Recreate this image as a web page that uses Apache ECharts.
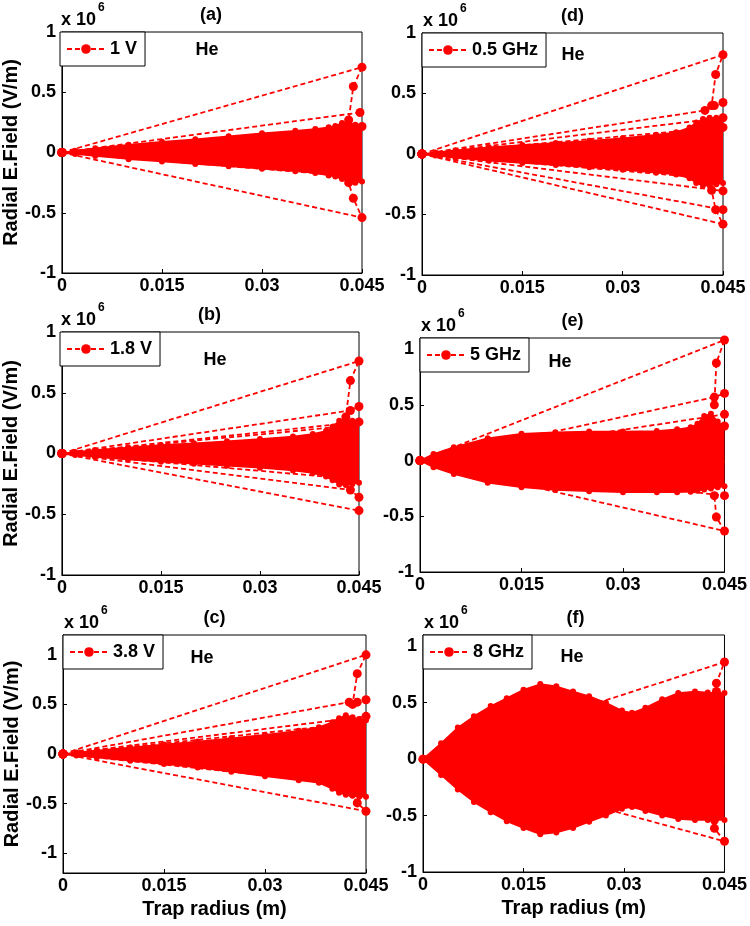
<!DOCTYPE html>
<html>
<head>
<meta charset="utf-8">
<script src="https://cdn.jsdelivr.net/npm/echarts@6/dist/echarts.min.js"></script>
<style>
  html, body { margin: 0; padding: 0; background: #fff; }
  #chart { width: 750px; height: 926px; }
</style>
</head>
<body>
<div id="chart"></div>
<script>
// tick labels
const xTicks = [0, 0.015, 0.03, 0.045]
const yTicks = [-1, -0.5, 0, 0.5, 1]

// envelope of the dense oscillation, x in m, E in 1e6 V/m
const envX = [0, 0.002, 0.005, 0.01, 0.015, 0.02, 0.025, 0.03, 0.035, 0.038, 0.04, 0.041, 0.042, 0.043, 0.044, 0.045]

const upA = [0, 0.015, 0.035, 0.065, 0.09, 0.11, 0.135, 0.16, 0.18, 0.195, 0.21, 0.22, 0.245, 0.25, 0.23, 0.22]
const loA = [0, -0.013, -0.03, -0.055, -0.075, -0.095, -0.115, -0.135, -0.155, -0.17, -0.19, -0.2, -0.22, -0.24, -0.25, -0.24]

const upB = [0, 0.012, 0.028, 0.05, 0.07, 0.085, 0.1, 0.12, 0.14, 0.16, 0.185, 0.22, 0.27, 0.28, 0.27, 0.26]
const loB = [0, -0.012, -0.028, -0.05, -0.068, -0.085, -0.1, -0.118, -0.14, -0.16, -0.19, -0.22, -0.255, -0.26, -0.25, -0.24]

const upC = [0, 0.015, 0.035, 0.065, 0.095, 0.125, 0.16, 0.195, 0.235, 0.27, 0.32, 0.36, 0.39, 0.37, 0.35, 0.34]
const loC = [0, -0.015, -0.035, -0.068, -0.1, -0.135, -0.18, -0.225, -0.265, -0.29, -0.35, -0.39, -0.41, -0.42, -0.43, -0.43]

const upD = [0, 0.012, 0.03, 0.055, 0.075, 0.09, 0.11, 0.13, 0.16, 0.18, 0.22, 0.26, 0.29, 0.3, 0.3, 0.3]
const loD = [0, -0.012, -0.03, -0.055, -0.075, -0.09, -0.11, -0.13, -0.155, -0.17, -0.2, -0.24, -0.26, -0.26, -0.25, -0.24]

const upE = [0, 0.06, 0.12, 0.2, 0.24, 0.255, 0.26, 0.26, 0.265, 0.28, 0.3, 0.33, 0.4, 0.42, 0.35, 0.3]
const loE = [0, -0.06, -0.12, -0.2, -0.24, -0.265, -0.275, -0.285, -0.285, -0.285, -0.28, -0.27, -0.26, -0.25, -0.24, -0.23]

// panel (f) has its own sampling (beat-shaped envelope)
const envXF = [0, 0.0027, 0.0052, 0.0076, 0.0101, 0.0125, 0.015, 0.0175, 0.0199, 0.0224, 0.0248, 0.0273, 0.0297, 0.0312, 0.0332, 0.0357, 0.0381, 0.0406, 0.0425, 0.045]
const upF = [0, 0.14, 0.28, 0.38, 0.47, 0.54, 0.615, 0.665, 0.645, 0.6, 0.558, 0.5, 0.43, 0.41, 0.456, 0.53, 0.587, 0.6, 0.59, 0.587]
const loF = [0, -0.14, -0.27, -0.38, -0.47, -0.55, -0.61, -0.665, -0.65, -0.61, -0.555, -0.5, -0.44, -0.425, -0.46, -0.5, -0.53, -0.54, -0.54, -0.54]

// outer dashed traces, each starts at the origin
const raysA = [
  [[0, 0], [0.045, 0.708], [0.0437, 0.548], [0.043, 0.27]],
  [[0, 0], [0.0447, 0.332]],
  [[0, 0], [0.045, 0.216]],
  [[0, 0], [0.042, 0.17]],
  [[0, 0], [0.045, -0.54], [0.0437, -0.38], [0.043, -0.25]],
  [[0, 0], [0.042, -0.15]],
  [[0, 0], [0.042, -0.19]],
]
const raysB = [
  [[0, 0], [0.045, 0.761], [0.0437, 0.6], [0.043, 0.3]],
  [[0, 0], [0.0437, 0.354], [0.045, 0.387]],
  [[0, 0], [0.045, 0.26]],
  [[0, 0], [0.042, 0.22]],
  [[0, 0], [0.045, -0.47]],
  [[0, 0], [0.0437, -0.3], [0.045, -0.36]],
  [[0, 0], [0.042, -0.2]],
]
const raysC = [
  [[0, 0], [0.045, 1.0], [0.0437, 0.81], [0.043, 0.5]],
  [[0, 0], [0.0425, 0.523], [0.0437, 0.523], [0.045, 0.547]],
  [[0, 0], [0.045, 0.38]],
  [[0, 0], [0.042, 0.3]],
  [[0, 0], [0.045, -0.577], [0.0437, -0.493], [0.043, -0.4]],
  [[0, 0], [0.042, -0.25]],
  [[0, 0], [0.042, -0.3]],
]
const raysD = [
  [[0, 0], [0.045, 0.82], [0.0439, 0.657], [0.0433, 0.4]],
  [[0, 0], [0.0423, 0.36], [0.0437, 0.4], [0.045, 0.426]],
  [[0, 0], [0.045, 0.3]],
  [[0, 0], [0.045, 0.22]],
  [[0, 0], [0.045, -0.58], [0.0439, -0.46], [0.0433, -0.3]],
  [[0, 0], [0.045, -0.46]],
  [[0, 0], [0.045, -0.305]],
  [[0, 0], [0.043, -0.2]],
]
const raysE = [
  [[0, 0], [0.045, 1.082], [0.0438, 0.876], [0.0435, 0.5]],
  [[0, 0], [0.0435, 0.57], [0.045, 0.603]],
  [[0, 0], [0.045, 0.415]],
  [[0, 0], [0.045, 0.31]],
  [[0, 0], [0.045, -0.632], [0.0438, -0.506], [0.0435, -0.315]],
  [[0, 0], [0.045, -0.315]],
]
const raysF = [
  [[0, 0], [0.045, 0.861], [0.0438, 0.673], [0.0438, 0.6]],
  [[0, 0], [0.045, -0.728], [0.0435, -0.613], [0.0435, -0.54]],
]

const legendLabels = ['1 V', '1.8 V', '3.8 V', '0.5 GHz', '5 GHz', '8 GHz']
const panelTitles = ['(a)', '(b)', '(c)', '(d)', '(e)', '(f)']

const FONT = '"Liberation Sans", Arial, sans-serif'
const RED = '#ff0000'

// layout: grid rect [left, top, width, height], y range, "He" position
const panels = [
  { x: envX, up: upA, lo: loA, rays: raysA, rect: [60, 32, 302, 241], yMin: -1, yMax: 1, he: [207, 50], left: true, bottom: false },
  { x: envX, up: upB, lo: loB, rays: raysB, rect: [60, 332, 299, 243], yMin: -1, yMax: 1, he: [215, 360], left: true, bottom: false },
  { x: envX, up: upC, lo: loC, rays: raysC, rect: [63, 635, 303, 238], yMin: -1.2, yMax: 1.2, he: [202, 658], left: true, bottom: true },
  { x: envX, up: upD, lo: loD, rays: raysD, rect: [422, 33, 301, 242], yMin: -1, yMax: 1, he: [573, 55], left: false, bottom: false },
  { x: envX, up: upE, lo: loE, rays: raysE, rect: [420, 338, 305, 234], yMin: -1, yMax: 1.1, he: [560, 362], left: false, bottom: false },
  { x: envXF, up: upF, lo: loF, rays: raysF, rect: [423, 635, 305, 237], yMin: -1, yMax: 1.1, he: [572, 657], left: false, bottom: true },
]

const boldText = (size) => ({ color: '#000', fontSize: size, fontWeight: 'bold', fontFamily: FONT })

const tickFmt = (ticks) => (v) => {
  const hit = ticks.find((t) => Math.abs(t - v) < 1e-9)
  return hit === undefined ? '' : String(hit)
}

const grid = [], xAxis = [], yAxis = [], series = [], legend = [], graphic = []

panels.forEach((p, i) => {
  const [l, t, w, h] = p.rect
  grid.push({ left: l, top: t, width: w, height: h, show: true, borderColor: '#000', borderWidth: 1, backgroundColor: 'transparent' })

  xAxis.push({
    gridIndex: i, type: 'value', min: 0, max: 0.045, interval: 0.015,
    axisLine: { show: true, onZero: false, lineStyle: { color: '#000', width: 1 } },
    axisTick: { inside: true, length: 4, lineStyle: { color: '#000' } },
    splitLine: { show: false },
    axisLabel: { ...boldText(18), margin: 4, formatter: tickFmt(xTicks), showMinLabel: true, showMaxLabel: true },
    name: p.bottom ? 'Trap radius (m)' : '',
    nameLocation: 'middle', nameGap: 26,
    nameTextStyle: boldText(20),
  })

  const y = {
    gridIndex: i, type: 'value', min: p.yMin, max: p.yMax,
    axisLine: { show: true, onZero: false, lineStyle: { color: '#000', width: 1 } },
    axisTick: { inside: true, length: 4, lineStyle: { color: '#000' } },
    splitLine: { show: false },
    axisLabel: { ...boldText(18), margin: 6, formatter: tickFmt(yTicks) },
    name: p.left ? 'Radial E.Field (V/m)' : '',
    nameLocation: 'middle', nameRotate: 90, nameGap: 37,
    nameTextStyle: boldText(20),
  }
  if (p.yMin === -1) y.interval = 0.5
  else y.splitNumber = 4
  yAxis.push(y)

  // dense oscillation band: upper and lower envelopes filled towards zero
  // (upper fill reaches slightly below zero so the two halves overlap)
  ;[[p.up, -0.015], [p.lo, 0]].forEach(([arr, origin]) => {
    series.push({
      type: 'line', xAxisIndex: i, yAxisIndex: i, silent: true,
      data: p.x.map((xv, k) => [xv, arr[k]]),
      symbol: 'circle', symbolSize: 6, showSymbol: true,
      itemStyle: { color: RED },
      lineStyle: { color: RED, width: 1.5 },
      areaStyle: { color: RED, opacity: 1, origin },
      z: 2,
    })
  })

  // outer dashed traces
  p.rays.forEach((ray, r) => {
    series.push({
      name: r === 0 ? legendLabels[i] : 'trace ' + i + '-' + r,
      type: 'line', xAxisIndex: i, yAxisIndex: i, silent: true,
      data: ray,
      symbol: 'circle', symbolSize: 9, showSymbol: true,
      itemStyle: { color: RED },
      lineStyle: { color: RED, width: 1.8, type: [5, 3] },
      z: 3,
    })
  })

  legend.push({
    data: [legendLabels[i]], left: l, top: t, selectedMode: false,
    backgroundColor: '#fff', borderColor: '#000', borderWidth: 1, borderRadius: 0,
    padding: [8, 8, 8, 6], itemWidth: 38, itemHeight: 12, itemGap: 0,
    textStyle: boldText(18), z: 10,
  })

  // panel label, multiplier, gas label
  graphic.push(
    { type: 'text', x: l + w / 2, y: t - 17, z: 20,
      style: { text: panelTitles[i], font: 'bold 18px ' + FONT, fill: '#000', align: 'center', verticalAlign: 'middle', textAlign: 'center', textVerticalAlign: 'middle' } },
    { type: 'text', x: l + 1, y: t - 12, z: 20,
      style: { text: 'x 10', font: 'bold 18px ' + FONT, fill: '#000', align: 'left', verticalAlign: 'middle', textAlign: 'left', textVerticalAlign: 'middle' } },
    { type: 'text', x: l + 38, y: t - 24, z: 20,
      style: { text: '6', font: 'bold 12px ' + FONT, fill: '#000', align: 'left', verticalAlign: 'middle', textAlign: 'left', textVerticalAlign: 'middle' } },
    { type: 'text', x: p.he[0], y: p.he[1], z: 20,
      style: { text: 'He', font: 'bold 18px ' + FONT, fill: '#000', align: 'center', verticalAlign: 'middle', textAlign: 'center', textVerticalAlign: 'middle' } },
  )
})

const chart = echarts.init(document.getElementById('chart'), null, { renderer: 'canvas' })
chart.setOption({
  animation: false,
  backgroundColor: '#fff',
  grid, xAxis, yAxis, series, legend, graphic,
})
</script>
</body>
</html>
